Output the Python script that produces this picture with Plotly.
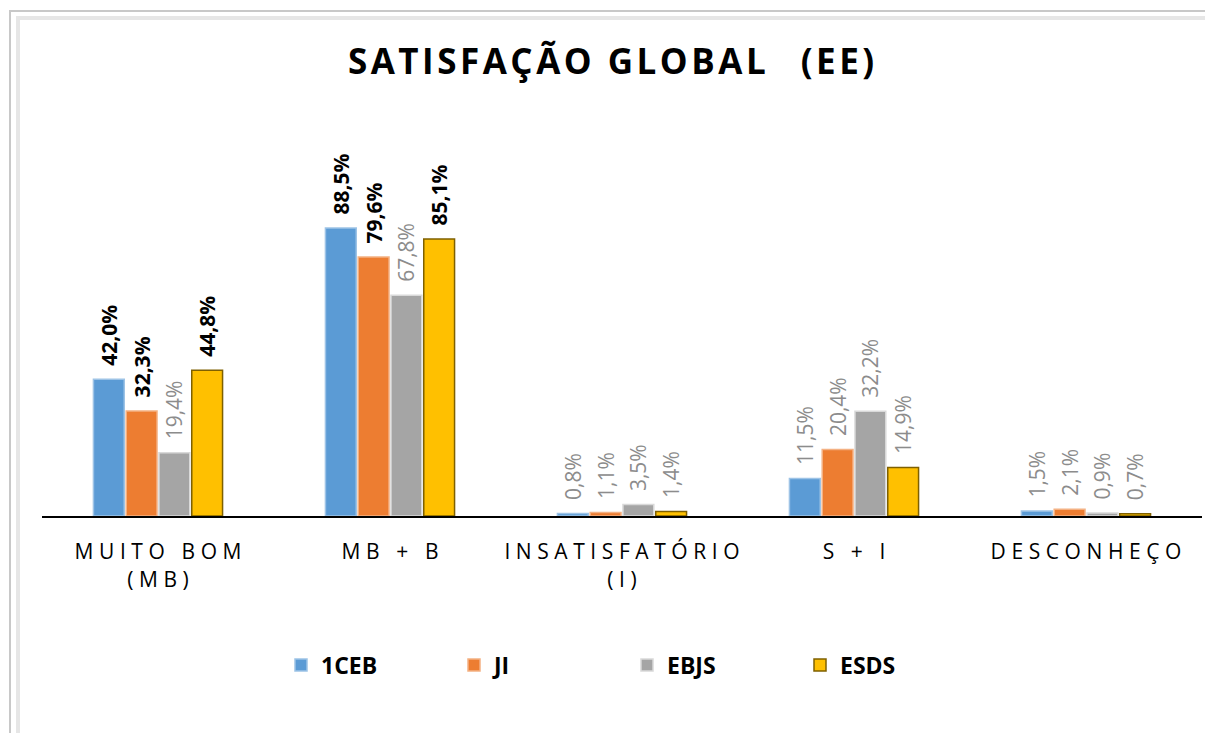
import plotly.graph_objects as go

categories = ["MUITO BOM<br>(MB)", "MB + B", "INSATISFATÓRIO<br>(I)", "S + I", "DESCONHEÇO"]
series_names = ["1CEB", "JI", "EBJS", "ESDS"]
values_1ceb = [42.0, 88.5, 0.8, 11.5, 1.5]
values_ji = [32.3, 79.6, 1.1, 20.4, 2.1]
values_ebjs = [19.4, 67.8, 3.5, 32.2, 0.9]
values_esds = [44.8, 85.1, 1.4, 14.9, 0.7]
# which labels are emphasised (bold black) per series
bold_1ceb = [True, True, False, False, False]
bold_ji = [True, True, False, False, False]
bold_ebjs = [False, False, False, False, False]
bold_esds = [True, True, False, False, False]

colors = ["#5B9BD5", "#ED7D31", "#A5A5A5", "#FFC000"]
edge_colors = ["#9DC3E6", "#F4B183", "#D9D9D9", "#7F6000"]

SP = "\u2009"
HS = "\u200a"


def spaced(s, sep):
    parts = s.split("<br>")
    return "<br>".join(sep.join(list(p)) for p in parts)


def fmt(v, b):
    t = f"{v:.1f}".replace(".", ",") + "%"
    return "\u2002" + (f"<b>{t}</b>" if b else t)


fig = go.Figure()
for name, vals, bolds, c, ec in zip(
    series_names,
    [values_1ceb, values_ji, values_ebjs, values_esds],
    [bold_1ceb, bold_ji, bold_ebjs, bold_esds],
    colors,
    edge_colors,
):
    fig.add_trace(
        go.Bar(
            name=name,
            x=[spaced(c_, SP + HS) for c_ in categories],
            y=vals,
            marker=dict(color=c, line=dict(color=ec, width=1.5)),
            text=[fmt(v, b) for v, b in zip(vals, bolds)],
            textposition="outside",
            textangle=-90,
            constraintext="none",
            cliponaxis=False,
            textfont=dict(
                family="Open Sans, sans-serif",
                size=21,
                color=["#000000" if b else "#8C8C8C" for b in bolds],
            ),
        )
    )

title_text = HS.join(list("SATISFAÇÃO GLOBAL")) + "\u2002\u2002" + HS.join(list("(EE)"))

fig.update_layout(
    width=1205,
    height=733,
    autosize=False,
    margin=dict(l=42, r=3, t=130, b=217),
    paper_bgcolor="white",
    plot_bgcolor="white",
    barmode="group",
    bargap=0.435,
    bargroupgap=0.06,
    title=dict(
        text="<b>" + title_text + "</b>",
        x=611 / 1205,
        xanchor="center",
        y=1 - 62 / 733,
        yanchor="middle",
        font=dict(family="Open Sans, sans-serif", size=35, color="#000000"),
    ),
    xaxis=dict(
        showline=True,
        linecolor="#000000",
        linewidth=2,
        ticks="",
        ticklabelstandoff=16,
        tickfont=dict(family="Open Sans, sans-serif", size=21, color="#000000"),
        showgrid=False,
    ),
    yaxis=dict(
        range=[0, 118.6],
        visible=False,
        showgrid=False,
        zeroline=False,
    ),
    legend=dict(
        orientation="h",
        x=(627 - 42) / 1160,
        xanchor="center",
        y=(516 - 665) / 386,
        yanchor="middle",
        entrywidth=128,
        entrywidthmode="pixels",
        font=dict(family="Open Sans, sans-serif", size=23, color="#000000", weight="bold"),
        itemwidth=30,
    ),
    shapes=[
        dict(type="rect", xref="paper", yref="paper",
             x0=-32 / 1160, x1=1.02, y0=-1, y1=(516 - 11) / 386,
             line=dict(color="#C8C8C8", width=2), fillcolor="rgba(0,0,0,0)", layer="below"),
        dict(type="rect", xref="paper", yref="paper",
             x0=-24 / 1160, x1=1.02, y0=-1, y1=(516 - 18) / 386,
             line=dict(color="#E6E6E6", width=4), fillcolor="rgba(0,0,0,0)", layer="below"),
    ],
)

fig.write_html("out.html")
